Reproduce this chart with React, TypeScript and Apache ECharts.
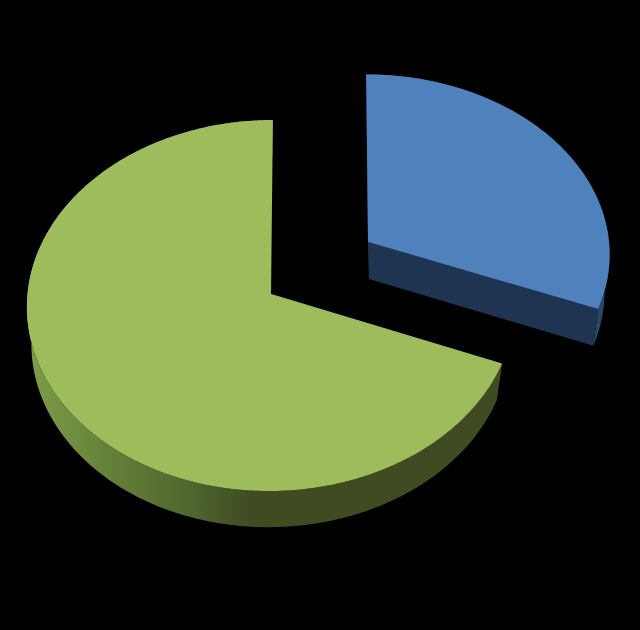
import React, { useEffect, useRef } from "react";
import * as echarts from "echarts";

const sliceNames = ["Blue share", "Green share"];
const sliceValues = [31, 69];

const START_DEG = -90;
const P = 0.062;

type Geo = { x: number; y: number; r: number; s: number; sh: number };
const topGeo: Geo[] = [
  { x: 368, y: 242, r: 241, s: 178, sh: 2 },
  { x: 271, y: 294, r: 243.5, s: 184.8, sh: -2 },
];
const lowGeo: Geo[] = [
  { x: 369, y: 279, r: 235, s: 177, sh: 2 },
  { x: 270.5, y: 331, r: 238.5, s: 184, sh: -2 },
];
const faceColors = ["#4F81BD", "#9EBC5C"];
const cutColors = ["#1F3450", "#3F4C22"];
const wallColors: any[] = [
  "#2C4668",
  new echarts.graphic.LinearGradient(0, 0, 1, 0, [
    { offset: 0, color: "#7E9E48" },
    { offset: 0.18, color: "#647F39" },
    { offset: 0.35, color: "#50652E" },
    { offset: 0.47, color: "#3F4C22" },
    { offset: 1, color: "#3F4C22" },
  ]),
];

function project(g: Geo, deg: number): number[] {
  const t = (deg * Math.PI) / 180;
  const w = 1 - P * Math.sin(t);
  return [
    g.x + (g.r * Math.cos(t) + g.sh * Math.sin(t)) / w,
    g.y + (g.s * Math.sin(t)) / w,
  ];
}

function arc(g: Geo, a: number, b: number): number[][] {
  const n = Math.max(8, Math.ceil(Math.abs(b - a) * 1.5));
  const pts: number[][] = [];
  for (let i = 0; i <= n; i++) pts.push(project(g, a + ((b - a) * i) / n));
  return pts;
}

const total = sliceValues.reduce((s, v) => s + v, 0);

function renderItem(params: any, api: any) {
  const i = params.dataIndex;
  const before = sliceValues.slice(0, i).reduce((s, v) => s + v, 0);
  const a = START_DEG + (before / total) * 360;
  const b = a + (Number(api.value(0)) / total) * 360;
  const top = topGeo[i];
  const low = lowGeo[i];
  const topArc = arc(top, a, b);
  const lowArc = arc(low, a, b);
  const poly = (points: number[][], fill: any) => ({
    type: "polygon",
    shape: { points },
    style: { fill, stroke: "none" },
  });
  const children = [
    poly([...topArc, ...lowArc.slice().reverse()], wallColors[i]),
    poly([[top.x, top.y], topArc[0], lowArc[0], [low.x, low.y]], cutColors[i]),
    poly(
      [[top.x, top.y], topArc[topArc.length - 1], lowArc[lowArc.length - 1], [low.x, low.y]],
      cutColors[i],
    ),
    poly([[top.x, top.y], ...topArc], faceColors[i]),
  ];
  return { type: "group", children };
}

export default function App() {
  const ref = useRef<HTMLDivElement>(null);
  useEffect(() => {
    document.body.style.margin = "0";
    document.body.style.background = "#000";
    const chart = echarts.init(ref.current!, undefined, { renderer: "svg" });
    chart.setOption({
      animation: false,
      backgroundColor: "#000000",
      series: [
        {
          type: "custom",
          coordinateSystem: "none",
          renderItem,
          data: sliceValues.map((v, i) => ({ name: sliceNames[i], value: [v] })),
          silent: true,
        },
      ],
    });
    return () => chart.dispose();
  }, []);
  return <div ref={ref} style={{ width: 640, height: 630 }} />;
}
